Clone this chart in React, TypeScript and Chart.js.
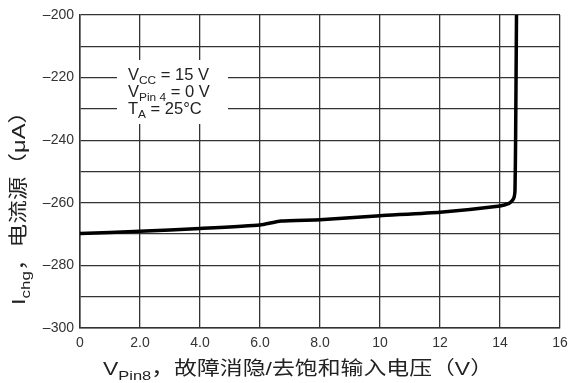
import React, { useEffect, useRef } from "react";
import { Chart, registerables } from "chart.js";

Chart.register(...registerables);

// Data
const vPin8: number[] = [0, 2, 4, 6, 6.7, 8, 10, 12, 14, 14.3, 14.4, 14.47, 14.5, 14.52, 14.55];
const iChg: number[] = [-269.8, -269.1, -268.2, -267.1, -265.8, -265.4, -264.1, -263.0, -261.0, -260.2, -259.4, -258.2, -256, -240, -200];

const xMin = 0;
const xMax = 16;
const xStep = 2;
const yMin = -300;
const yMax = -200;
const yStep = 10;
const yLabelStep = 20;

const xTitleParts = [
  { t: "V" },
  { t: "Pin8", sub: true },
  { t: "，故障消隐/去饱和输入电压（V）" },
];
const yTitleParts = [
  { t: "I" },
  { t: "chg", sub: true },
  { t: "，电流源（μA）" },
];
const conditionLines = [
  [{ t: "V" }, { t: "CC", sub: true }, { t: " = 15 V" }],
  [{ t: "V" }, { t: "Pin 4", sub: true }, { t: " = 0 V" }],
  [{ t: "T" }, { t: "A", sub: true }, { t: " = 25°C" }],
];

const FONT = '"Liberation Sans", Arial, "Noto Sans CJK SC", sans-serif';

type Part = { t: string; sub?: boolean };

function measureParts(ctx: CanvasRenderingContext2D, parts: Part[], size: number) {
  let w = 0;
  for (const p of parts) {
    ctx.font = `${p.sub ? size * 0.72 : size}px ${FONT}`;
    w += ctx.measureText(p.t).width;
  }
  return w;
}

function drawParts(ctx: CanvasRenderingContext2D, parts: Part[], x: number, y: number, size: number) {
  let cx = x;
  ctx.textBaseline = "alphabetic";
  ctx.textAlign = "left";
  for (const p of parts) {
    const s = p.sub ? size * 0.72 : size;
    ctx.font = `${s}px ${FONT}`;
    ctx.fillText(p.t, cx, p.sub ? y + size * 0.25 : y);
    cx += ctx.measureText(p.t).width;
  }
}

const annotatePlugin = {
  id: "annotate",
  afterDatasetsDraw(chart: any) {
    const ctx: CanvasRenderingContext2D = chart.ctx;
    ctx.save();
    // condition box
    ctx.fillStyle = "#ffffff";
    ctx.fillRect(117, 60, 111, 64);
    ctx.fillStyle = "#222";
    const size = 16;
    const bases = [80, 97, 114];
    const w1 = measureParts(ctx, conditionLines[0], size);
    const sx = Math.min(1.2, 81 / Math.max(w1, 1));
    conditionLines.forEach((line, i) => {
      ctx.save();
      ctx.translate(128, bases[i]);
      ctx.scale(sx, 1);
      drawParts(ctx, line, 0, 0, size);
      ctx.restore();
    });
    ctx.restore();
  },
  afterDraw(chart: any) {
    const ctx: CanvasRenderingContext2D = chart.ctx;
    ctx.save();
    ctx.fillStyle = "#222";
    // x title
    const xs = 19;
    const xw = measureParts(ctx, xTitleParts, xs);
    const targetX = 390;
    ctx.save();
    ctx.translate(103, 375);
    ctx.scale(targetX / xw, 1);
    drawParts(ctx, xTitleParts, 0, 0, xs);
    ctx.restore();
    // y title
    const ys = 19;
    const yw = measureParts(ctx, yTitleParts, ys);
    const targetY = 205;
    ctx.save();
    ctx.translate(25, 305);
    ctx.rotate(-Math.PI / 2);
    ctx.scale(targetY / yw, 1);
    drawParts(ctx, yTitleParts, 0, 0, ys);
    ctx.restore();
    ctx.restore();
  },
};

export default function App() {
  const ref = useRef<HTMLCanvasElement | null>(null);

  useEffect(() => {
    document.body.style.margin = "0";
    const canvas = ref.current;
    if (!canvas) return;
    const chart = new Chart(canvas, {
      type: "line",
      data: {
        datasets: [
          {
            data: vPin8.map((x, i) => ({ x, y: iChg[i] })),
            borderColor: "#000",
            borderWidth: 3.5,
            pointRadius: 0,
            tension: 0.15,
            borderJoinStyle: "round",
            borderCapStyle: "round",
          },
        ],
      },
      options: {
        responsive: false,
        animation: false,
        maintainAspectRatio: false,
        layout: { padding: { top: 15, right: 0, left: 0, bottom: 0 } },
        plugins: {
          legend: { display: false },
          tooltip: { enabled: false },
          title: { display: false },
        },
        scales: {
          x: {
            type: "linear",
            min: xMin,
            max: xMax,
            ticks: {
              stepSize: xStep,
              color: "#333",
              font: { family: FONT, size: 14 },
              padding: 7,
              maxRotation: 0,
              callback: (v: any) => {
                const n = Number(v);
                return n > 0 && n < 10 ? n.toFixed(1) : String(n);
              },
            },
            grid: { color: "#333", lineWidth: 1.3, drawTicks: false },
            border: { color: "#333", width: 1.5 },
            afterFit: (s: any) => {
              s.height = 55;
              s.paddingRight = 10;
            },
          },
          y: {
            type: "linear",
            min: yMin,
            max: yMax,
            ticks: {
              stepSize: yStep,
              color: "#333",
              font: { family: FONT, size: 14 },
              padding: 6,
              callback: (v: any) => {
                const n = Number(v);
                return n % yLabelStep === 0 ? "–" + Math.abs(n) : "";
              },
            },
            grid: { color: "#333", lineWidth: 1.3, drawTicks: false },
            border: { color: "#333", width: 1.5 },
            afterFit: (s: any) => {
              s.width = 80;
            },
          },
        },
      },
      plugins: [annotatePlugin],
    } as any);
    return () => chart.destroy();
  }, []);

  return (
    <div style={{ position: "absolute", left: 0, top: 0, width: 570, height: 383, background: "#fff" }}>
      <canvas ref={ref} width={570} height={383} style={{ width: 570, height: 383 }} />
    </div>
  );
}
